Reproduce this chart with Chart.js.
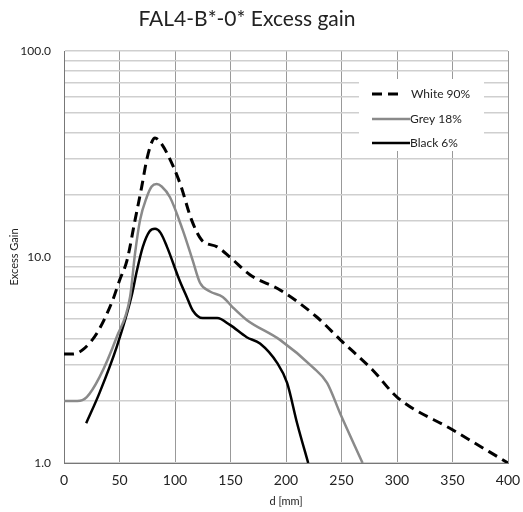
<!DOCTYPE html>
<html lang="en">
<head>
  <meta charset="UTF-8">
  <title>FAL4-B*-0* Excess gain</title>
  <script src="https://cdn.jsdelivr.net/npm/chart.js"></script>
  <style>
    body { margin: 0; background: #fff; }
    #wrap { width: 523px; height: 512px; }
  </style>
</head>
<body>
  <div id="wrap"><canvas id="myChart" width="523" height="512"></canvas></div>

  <script>
    // series values (d in mm, excess gain)
    const whiteX = [0, 8, 17, 30, 44, 50, 56.7, 64, 70, 74.5, 79, 82, 86, 92.8, 104.5, 115, 124, 138, 149.5, 167.5, 195, 228, 249, 278, 300, 350, 400];
    const whiteY = [3.38, 3.38, 3.55, 4.3, 6.2, 7.7, 9.6, 15.1, 21.9, 29.6, 36, 37.8, 36.5, 31.9, 22.8, 15.1, 12.1, 11.2, 10, 8.2, 6.9, 5.1, 3.96, 2.83, 2.09, 1.45, 1.0];

    const greyX = [0, 12, 20.5, 32, 47.5, 59.5, 64, 68.5, 74.5, 79, 83.5, 88, 95.5, 107, 116, 122.5, 131.5, 143, 152, 164.6, 194.6, 224, 237, 248.6, 269];
    const greyY = [2.0, 2.0, 2.09, 2.61, 4.09, 6.4, 10.4, 15.1, 19.5, 22, 22.6, 22, 19.5, 13.5, 9.6, 7.5, 6.8, 6.4, 5.7, 4.95, 3.96, 2.92, 2.45, 1.75, 1.0];

    const blackX = [20, 32, 47.5, 61, 65.7, 71, 77, 82, 87, 92.8, 104.5, 110.6, 116, 125, 138, 149.5, 164.6, 176.6, 192, 201, 210, 220];
    const blackY = [1.56, 2.19, 3.66, 6.5, 8.6, 11.2, 13.3, 13.7, 13.1, 11.2, 7.6, 6.4, 5.5, 5.05, 5.05, 4.68, 4.08, 3.8, 3.06, 2.45, 1.56, 1.0];

    const seriesNames = ['White 90%', 'Grey 18%', 'Black 6%'];
    const yTickLabels = { 1: '1.0', 10: '10.0', 100: '100.0' };

    const font = 'Lato, "Open Sans", sans-serif';

    function toPoints(xs, ys) {
      return xs.map((x, i) => ({ x: x, y: ys[i] }));
    }

    // title drawn by hand so it sits where the original has it
    const titlePlugin = {
      id: 'manualTitle',
      afterDraw(chart) {
        const ctx = chart.ctx;
        ctx.save();
        ctx.fillStyle = '#222';
        ctx.font = '21px ' + font;
        ctx.textAlign = 'center';
        ctx.textBaseline = 'middle';
        ctx.fillText('FAL4-B*-0* Excess gain', 247, 19);
        ctx.restore();
      }
    };

    // legend box inside the plot
    const legendPlugin = {
      id: 'boxLegend',
      afterDraw(chart) {
        const ctx = chart.ctx;
        const ds = chart.data.datasets;
        ctx.save();
        ctx.fillStyle = '#fff';
        ctx.fillRect(359, 79, 125, 72);
        const rows = [94, 119, 143];
        ds.forEach((d, i) => {
          ctx.strokeStyle = d.borderColor;
          ctx.lineWidth = d.borderWidth;
          ctx.setLineDash(d.borderDash || []);
          ctx.beginPath();
          ctx.moveTo(372, rows[i]);
          ctx.lineTo(i === 0 ? 403 : 410, rows[i]);
          ctx.stroke();
          ctx.setLineDash([]);
          ctx.fillStyle = '#222';
          ctx.font = '12px ' + font;
          ctx.textAlign = 'left';
          ctx.textBaseline = 'middle';
          ctx.fillText(d.label, i === 0 ? 411 : 410, rows[i]);
        });
        ctx.restore();
      }
    };

    const ctx = document.getElementById('myChart').getContext('2d');
    new Chart(ctx, {
      type: 'line',
      data: {
        datasets: [
          {
            label: seriesNames[0],
            data: toPoints(whiteX, whiteY),
            borderColor: '#000',
            borderWidth: 3,
            borderDash: [10, 6],
            pointRadius: 0,
            cubicInterpolationMode: 'monotone',
            fill: false
          },
          {
            label: seriesNames[1],
            data: toPoints(greyX, greyY),
            borderColor: '#8a8a8a',
            borderWidth: 2.5,
            pointRadius: 0,
            cubicInterpolationMode: 'monotone',
            fill: false
          },
          {
            label: seriesNames[2],
            data: toPoints(blackX, blackY),
            borderColor: '#000',
            borderWidth: 2.5,
            pointRadius: 0,
            cubicInterpolationMode: 'monotone',
            fill: false
          }
        ]
      },
      options: {
        responsive: false,
        animation: false,
        layout: { padding: { top: 51, right: 15, left: 0, bottom: 0 } },
        plugins: {
          legend: { display: false },
          tooltip: { enabled: false }
        },
        scales: {
          x: {
            type: 'linear',
            min: 0,
            max: 400,
            ticks: {
              stepSize: 50,
              maxRotation: 0,
              color: '#222',
              font: { family: font, size: 14 },
              padding: 9
            },
            grid: { color: '#999', lineWidth: 1, drawTicks: false },
            border: { color: '#777', width: 1 },
            title: {
              display: true,
              text: 'd [mm]',
              color: '#222',
              font: { family: font, size: 11 },
              padding: { top: 3 }
            },
            afterFit(scale) {
              scale.height = 49;
              scale.paddingLeft = 0;
              scale.paddingRight = 0;
            }
          },
          y: {
            type: 'logarithmic',
            min: 1,
            max: 100,
            ticks: {
              autoSkip: false,
              color: '#222',
              font: { family: font, size: 12 },
              padding: 13,
              callback: function(value) {
                return yTickLabels[value] || '';
              }
            },
            grid: { color: '#cfcfcf', lineWidth: 1.5, drawTicks: false },
            border: { color: '#777', width: 1 },
            title: {
              display: true,
              text: 'Excess Gain',
              color: '#222',
              font: { family: font, size: 11 },
              padding: { top: 8, bottom: 0 }
            },
            afterFit(scale) {
              scale.width = 64;
              scale.paddingTop = 0;
              scale.paddingBottom = 0;
            }
          }
        }
      },
      plugins: [titlePlugin, legendPlugin]
    });
  </script>
</body>
</html>
